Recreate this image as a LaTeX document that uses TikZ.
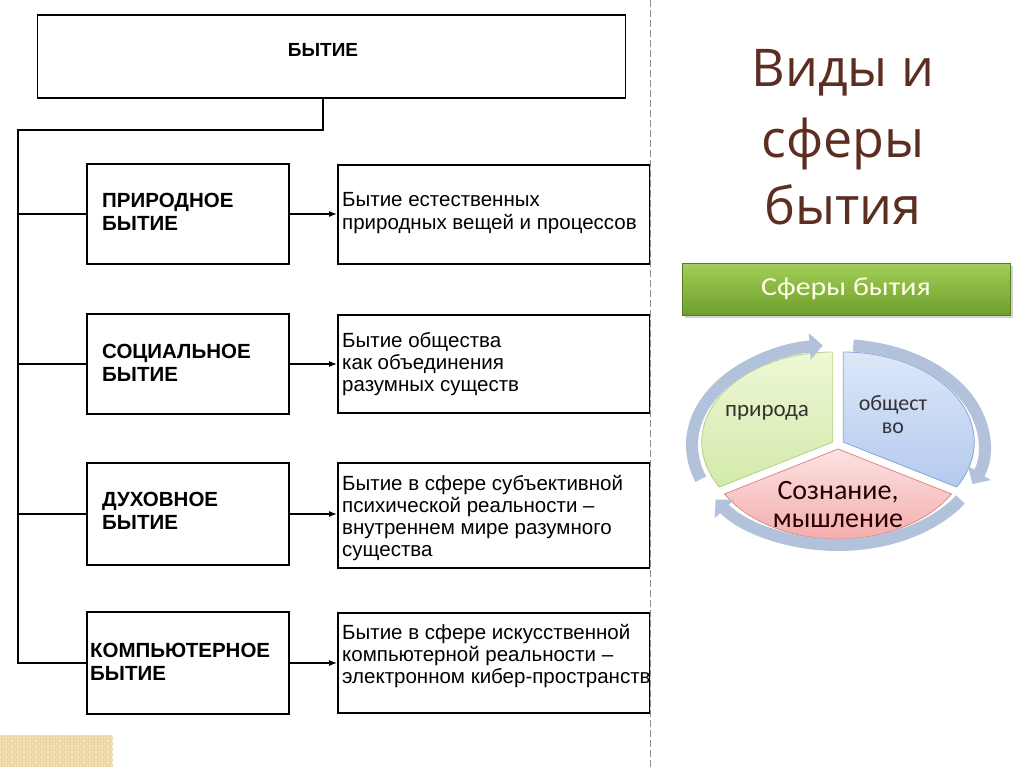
\documentclass[tikz,border=0pt]{standalone}
\usepackage{fontspec}
\setmainfont{Liberation Sans}
\newfontfamily\titlefont{Open Sans}
\newfontfamily\calfont{Carlito}
\newfontfamily\calwide[FakeStretch=1.15]{Carlito}
\usetikzlibrary{arrows.meta,shadows,calc}
\definecolor{titlec}{HTML}{5C2E22}
\definecolor{ringc}{HTML}{B2C2DA}
\definecolor{patchc}{HTML}{F2E0B4}
\definecolor{patchd}{HTML}{E0C890}
\definecolor{bannerT}{HTML}{A2CF58}
\definecolor{bannerB}{HTML}{6E9E2C}
\definecolor{gT}{HTML}{EEF8D6}
\definecolor{gB}{HTML}{D3EAAA}
\definecolor{gD}{HTML}{B7D78A}
\definecolor{bT}{HTML}{DDE7F8}
\definecolor{bB}{HTML}{B4CAEE}
\definecolor{bD}{HTML}{8EAADB}
\definecolor{pT}{HTML}{FCE2E2}
\definecolor{pB}{HTML}{F2A6A6}
\definecolor{pD}{HTML}{E48E8E}
\tikzset{
  box/.style={draw=black, line width=1.7pt, inner sep=0pt},
  lbl/.style={font=\fontsize{20.5}{23.5}\selectfont\bfseries, align=left, anchor=west, inner sep=0pt},
  desc/.style={font=\fontsize{20.5}{22.3}\selectfont, align=left, anchor=west, inner sep=0pt},
  conn/.style={line width=1.5pt},
  arr/.style={conn, -{Latex[length=8pt,width=6pt]}},
  ttl/.style={font=\titlefont\fontsize{52}{60}\selectfont, text=titlec, anchor=base, inner sep=0pt},
  ring/.style={draw=ringc, line width=12pt, -{Triangle[length=13pt,width=26pt]}},
  pietxt/.style={font=\calfont\fontsize{22}{23}\selectfont, text=black!80, align=center, inner sep=0pt}
}
\begin{document}
\begin{tikzpicture}[x=1pt,y=-1pt]
\fill[white] (0,0) rectangle (1024,767);
\useasboundingbox (0,0) rectangle (1024,767);

% ---------- left scanned scheme ----------
\begin{scope}
\clip (0,0) rectangle (650,767);
\node[box, minimum width=588, minimum height=83] (top) at (331.5,56.5) {};
\node[lbl, anchor=center, font=\fontsize{19}{22}\selectfont\bfseries] (toptxt) at (323,50) {БЫТИЕ};

\node[box, minimum width=202, minimum height=100] (b1) at (188,214) {};
\node[box, minimum width=202, minimum height=100] (b2) at (188,364) {};
\node[box, minimum width=202, minimum height=102] (b3) at (188,514) {};
\node[box, minimum width=202, minimum height=102] (b4) at (188,663) {};

\node[box, minimum width=312, minimum height=99] (r1) at (494,214.5) {};
\node[box, minimum width=312, minimum height=98] (r2) at (494,364) {};
\node[box, minimum width=312, minimum height=105] (r3) at (494,515.5) {};
\node[box, minimum width=312, minimum height=100] (r4) at (494,663) {};

\node[lbl] (l1) at (102,212) {ПРИРОДНОЕ\\БЫТИЕ};
\node[lbl] (l2) at (102,363) {СОЦИАЛЬНОЕ\\БЫТИЕ};
\node[lbl] (l3) at (102,511) {ДУХОВНОЕ\\БЫТИЕ};
\node[lbl] (l4) at (90,662) {КОМПЬЮТЕРНОЕ\\БЫТИЕ};

\node[desc] (d1) at (342,213) {Бытие естественных\\природных вещей и процессов};
\node[desc] (d2) at (342,364) {Бытие общества\\как объединения\\разумных существ};
\node[desc] (d3) at (342,518) {Бытие в сфере субъективной\\психической реальности –\\внутреннем мире разумного\\существа};
\node[desc] (d4) at (342,656) {Бытие в сфере искусственной\\компьютерной реальности –\\электронном кибер-пространстве};

\coordinate (tj) at (323,130);
\coordinate (tl) at (18,130);
\draw[conn] (tj |- top.south) -- (tj) -- (tl) -- (tl |- b4.west) -- (b4.west);
\draw[conn] (tl |- b1.west) -- (b1.west);
\draw[conn] (tl |- b2.west) -- (b2.west);
\draw[conn] (tl |- b3.west) -- (b3.west);

\draw[arr] (b1.east) -- (b1.east -| r1.west);
\draw[arr] (b2.east) -- (b2.east -| r2.west);
\draw[arr] (b3.east) -- (b3.east -| r3.west);
\draw[arr] (b4.east) -- (b4.east -| r4.west);
\end{scope}
\draw[black!45, line width=0.9pt, dash pattern=on 7pt off 3pt] (650,0) -- (650,767);

% bottom-left patch
\fill[patchc] (0,735) rectangle (112,767);
\foreach \i in {0,...,18}{\foreach \j in {0,...,5}{
  \draw[patchd, line width=0.5pt] (3+6*\i, 738+5.5*\j) circle (2);}}

% ---------- right side ----------
\node[ttl] (t1) at (843,87) {Виды и};
\node[ttl] (t2) at (843,158) {сферы};
\node[ttl] (t3) at (843,225) {бытия};

\node[draw=bannerB!80!black, line width=0.6pt, top color=bannerT, bottom color=bannerB,
      minimum width=328, minimum height=52, drop shadow={opacity=0.35},
      font=\calwide\fontsize{26}{28}\selectfont, text=white!90!yellow] (banner) at (846,289) {Сферы бытия};

\begin{scope}[shift={(838,445)}, y=1pt]
  % pie pieces
  \begin{scope}[shift={(150:6)}]
    \filldraw[draw=gD, line width=0.8pt, top color=gT, bottom color=gB]
      (0,0) -- (90:131 and 90) arc[start angle=90, end angle=210, x radius=131, y radius=90] -- cycle;
  \end{scope}
  \begin{scope}[shift={(30:6)}]
    \filldraw[draw=bD, line width=0.8pt, top color=bT, bottom color=bB]
      (0,0) -- (-30:131 and 90) arc[start angle=-30, end angle=90, x radius=131, y radius=90] -- cycle;
  \end{scope}
  \begin{scope}[shift={(270:4)}]
    \filldraw[draw=pD, line width=0.8pt, top color=pT, bottom color=pB]
      (0,0) -- (210:131 and 90) arc[start angle=210, end angle=330, x radius=131, y radius=90] -- cycle;
  \end{scope}
  % ring arrows
  \draw[ring] (200:146 and 100) arc[start angle=200, end angle=96, x radius=146, y radius=100];
  \draw[ring] (84:146 and 100) arc[start angle=84, end angle=-23, x radius=146, y radius=100];
  \draw[ring] (-33:146 and 100) arc[start angle=-33, end angle=-147, x radius=146, y radius=100];
  % texts
  \node[pietxt, font=\calfont\fontsize{23}{24}\selectfont] (pr) at (-71,32) {природа};
  \node[pietxt] (ob) at (55,30) {общест\\во};
  \node[pietxt, font=\calfont\fontsize{28}{28}\selectfont, text=black!85!red] (so) at (0,-60) {Сознание,\\мышление};
\end{scope}
\end{tikzpicture}
\end{document}
